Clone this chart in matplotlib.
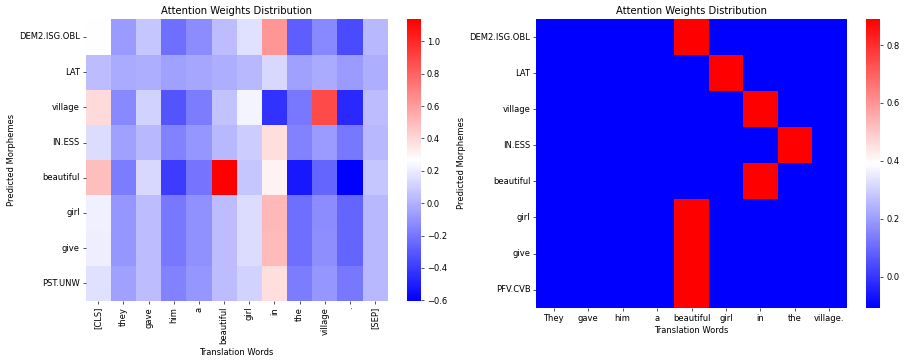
import numpy as np
import matplotlib
matplotlib.use('Agg')
import matplotlib.pyplot as plt
import seaborn as sns

# left: bert attention (rows = predicted morphemes, cols = translation tokens)
left_words = ['[CLS]', 'they', 'gave', 'him', 'a', 'beautiful', 'girl', 'in',
              'the', 'village', '.', '[SEP]']
left_morphs = ['DEM2.ISG.OBL', 'LAT', 'village', 'IN.ESS', 'beautiful',
               'girl', 'give', 'PST.UNW']
left_weights = [
    [0.27, -0.08, 0.075, -0.23, -0.126, 0.04, 0.16, 0.625, -0.28, -0.14, -0.35, 0.027],
    [0.04, -0.025, -0.01, -0.06, -0.04, -0.01, 0.027, 0.13, -0.06, -0.025, -0.075, -0.01],
    [0.39, -0.14, 0.11, -0.315, -0.18, 0.06, 0.23, -0.434, -0.195, 0.88, -0.468, 0.04],
    [0.15, -0.06, 0.027, -0.16, -0.093, 0.027, 0.09, 0.38, -0.16, -0.075, -0.195, 0.027],
    [0.49, -0.18, 0.13, -0.40, -0.21, 1.137, 0.075, 0.31, -0.52, -0.263, -0.605, 0.075],
    [0.215, -0.093, 0.04, -0.195, -0.11, 0.04, 0.15, 0.505, -0.23, -0.126, -0.263, 0.027],
    [0.21, -0.09, 0.04, -0.19, -0.11, 0.04, 0.145, 0.50, -0.225, -0.12, -0.26, 0.027],
    [0.16, -0.06, 0.04, -0.16, -0.093, 0.04, 0.11, 0.38, -0.18, -0.093, -0.195, 0.027],
]

# right: hard alignment
right_words = ['They', 'gave', 'him', 'a', 'beautiful', 'girl', 'in', 'the', 'village.']
right_morphs = ['DEM2.ISG.OBL', 'LAT', 'village', 'IN.ESS', 'beautiful',
                'girl', 'give', 'PFV.CVB']
lo, hi = -0.107, 0.89
right_weights = [
    [lo, lo, lo, lo, hi, lo, lo, lo, lo],
    [lo, lo, lo, lo, lo, hi, lo, lo, lo],
    [lo, lo, lo, lo, lo, lo, hi, lo, lo],
    [lo, lo, lo, lo, lo, lo, lo, hi, lo],
    [lo, lo, lo, lo, lo, lo, hi, lo, lo],
    [lo, lo, lo, lo, hi, lo, lo, lo, lo],
    [lo, lo, lo, lo, hi, lo, lo, lo, lo],
    [lo, lo, lo, lo, hi, lo, lo, lo, lo],
]

W, H = 907, 364
fig = plt.figure(figsize=(W / 60, H / 60), dpi=60)

def box(x0, y0, x1, y1):
    return [x0 / W, 1 - y1 / H, (x1 - x0) / W, (y1 - y0) / H]

ax1 = fig.add_axes(box(85.7, 19.3, 387.7, 301))
cax1 = fig.add_axes(box(407, 19.3, 421, 301))
ax2 = fig.add_axes(box(536.3, 19, 846.7, 307.7))
cax2 = fig.add_axes(box(866, 19, 880.3, 307.7))

sns.heatmap(np.array(left_weights), cmap='bwr', ax=ax1, cbar_ax=cax1,
            xticklabels=left_words, yticklabels=left_morphs)
ax1.set_title('Attention Weights Distribution')
ax1.set_xlabel('Translation Words')
ax1.set_ylabel('Predicted Morphemes')
ax1.tick_params(axis='x', rotation=90)
ax1.tick_params(axis='y', rotation=0)

sns.heatmap(np.array(right_weights), cmap='bwr', ax=ax2, cbar_ax=cax2,
            xticklabels=right_words, yticklabels=right_morphs)
ax2.set_title('Attention Weights Distribution')
ax2.set_xlabel('Translation Words')
ax2.set_ylabel('Predicted Morphemes')
ax2.tick_params(axis='x', rotation=0)
ax2.tick_params(axis='y', rotation=0)

fig.savefig('out.png', dpi=60)
